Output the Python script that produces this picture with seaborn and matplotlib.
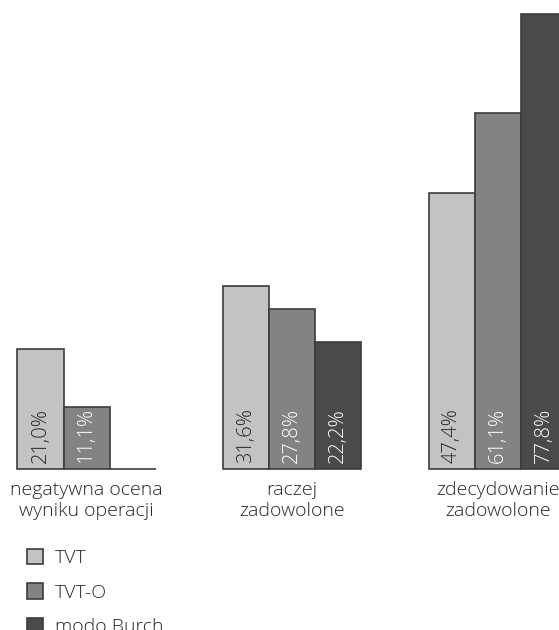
import matplotlib
matplotlib.use("Agg")
import matplotlib.pyplot as plt
import seaborn as sns
import pandas as pd

categories = ["negatywna ocena\nwyniku operacji", "raczej\nzadowolone", "zdecydowanie\nzadowolone"]
series = ["TVT", "TVT-O", "modo Burch"]
tvt = [21.0, 31.6, 47.4]
tvt_o = [11.1, 27.8, 61.1]
burch = [0.0, 22.2, 77.8]
colors = ["#c3c3c3", "#838383", "#4a4a4a"]
label_colors = ["#262626", "#ffffff", "#ffffff"]

rows = []
for s, vals in zip(series, [tvt, tvt_o, burch]):
    for c, v in zip(categories, vals):
        rows.append({"kategoria": c, "grupa": s, "wartosc": v})
df = pd.DataFrame(rows)

sns.set_theme(style="white")
plt.rcParams["font.family"] = ["Open Sans", "DejaVu Sans"]
plt.rcParams["font.weight"] = "light"
plt.rcParams["text.color"] = "#262626"

fig = plt.figure(figsize=(5.59, 6.3), dpi=100)
ax = fig.add_axes([0, 0.2556, 1, 0.7444])

sns.barplot(data=df, x="kategoria", y="wartosc", hue="grupa", order=categories,
            hue_order=series, palette=colors, width=0.671, gap=0,
            edgecolor="#3c3c3c", linewidth=1.2, saturation=1, ax=ax,
            errorbar=None)

lo, hi = 0.58, 80.2
ax.set_ylim(lo, hi)
ax.set_xlim(-0.4205, 2.2966)

# keep bars starting at axis floor (zero bar becomes a flat line on baseline)
for i, cont in enumerate(ax.containers):
    for p, v in zip(cont.patches, [tvt, tvt_o, burch][i]):
        top = max(p.get_y() + p.get_height(), lo)
        p.set_y(lo)
        p.set_height(top - lo)
        p.set_clip_on(False)
        if v > 0:
            val_text = f"{v:.1f}%".replace(".", ",")
            ax.annotate(val_text, (p.get_x() + p.get_width() / 2, lo),
                        xytext=(0, 6), textcoords="offset pixels",
                        rotation=90, ha="center", va="bottom",
                        fontsize=14.5, fontweight="light", color=label_colors[i])

sns.despine(ax=ax, left=True, bottom=True)
ax.set_yticks([])
ax.set_xlabel("")
ax.set_ylabel("")
ax.tick_params(axis="x", length=0, pad=9, labelsize=14, labelcolor="#262626")
ax.set_facecolor("none")

leg = ax.get_legend()
handles = leg.legend_handles
leg.remove()
fig.legend(handles, series, loc="upper left", bbox_to_anchor=(0.048, 0.129),
           frameon=False, fontsize=14, handlelength=0.85, handleheight=0.85,
           handletextpad=0.6, labelspacing=0.83, borderpad=0, borderaxespad=0,
           labelcolor="#262626")

fig.savefig("out.png", dpi=100)
